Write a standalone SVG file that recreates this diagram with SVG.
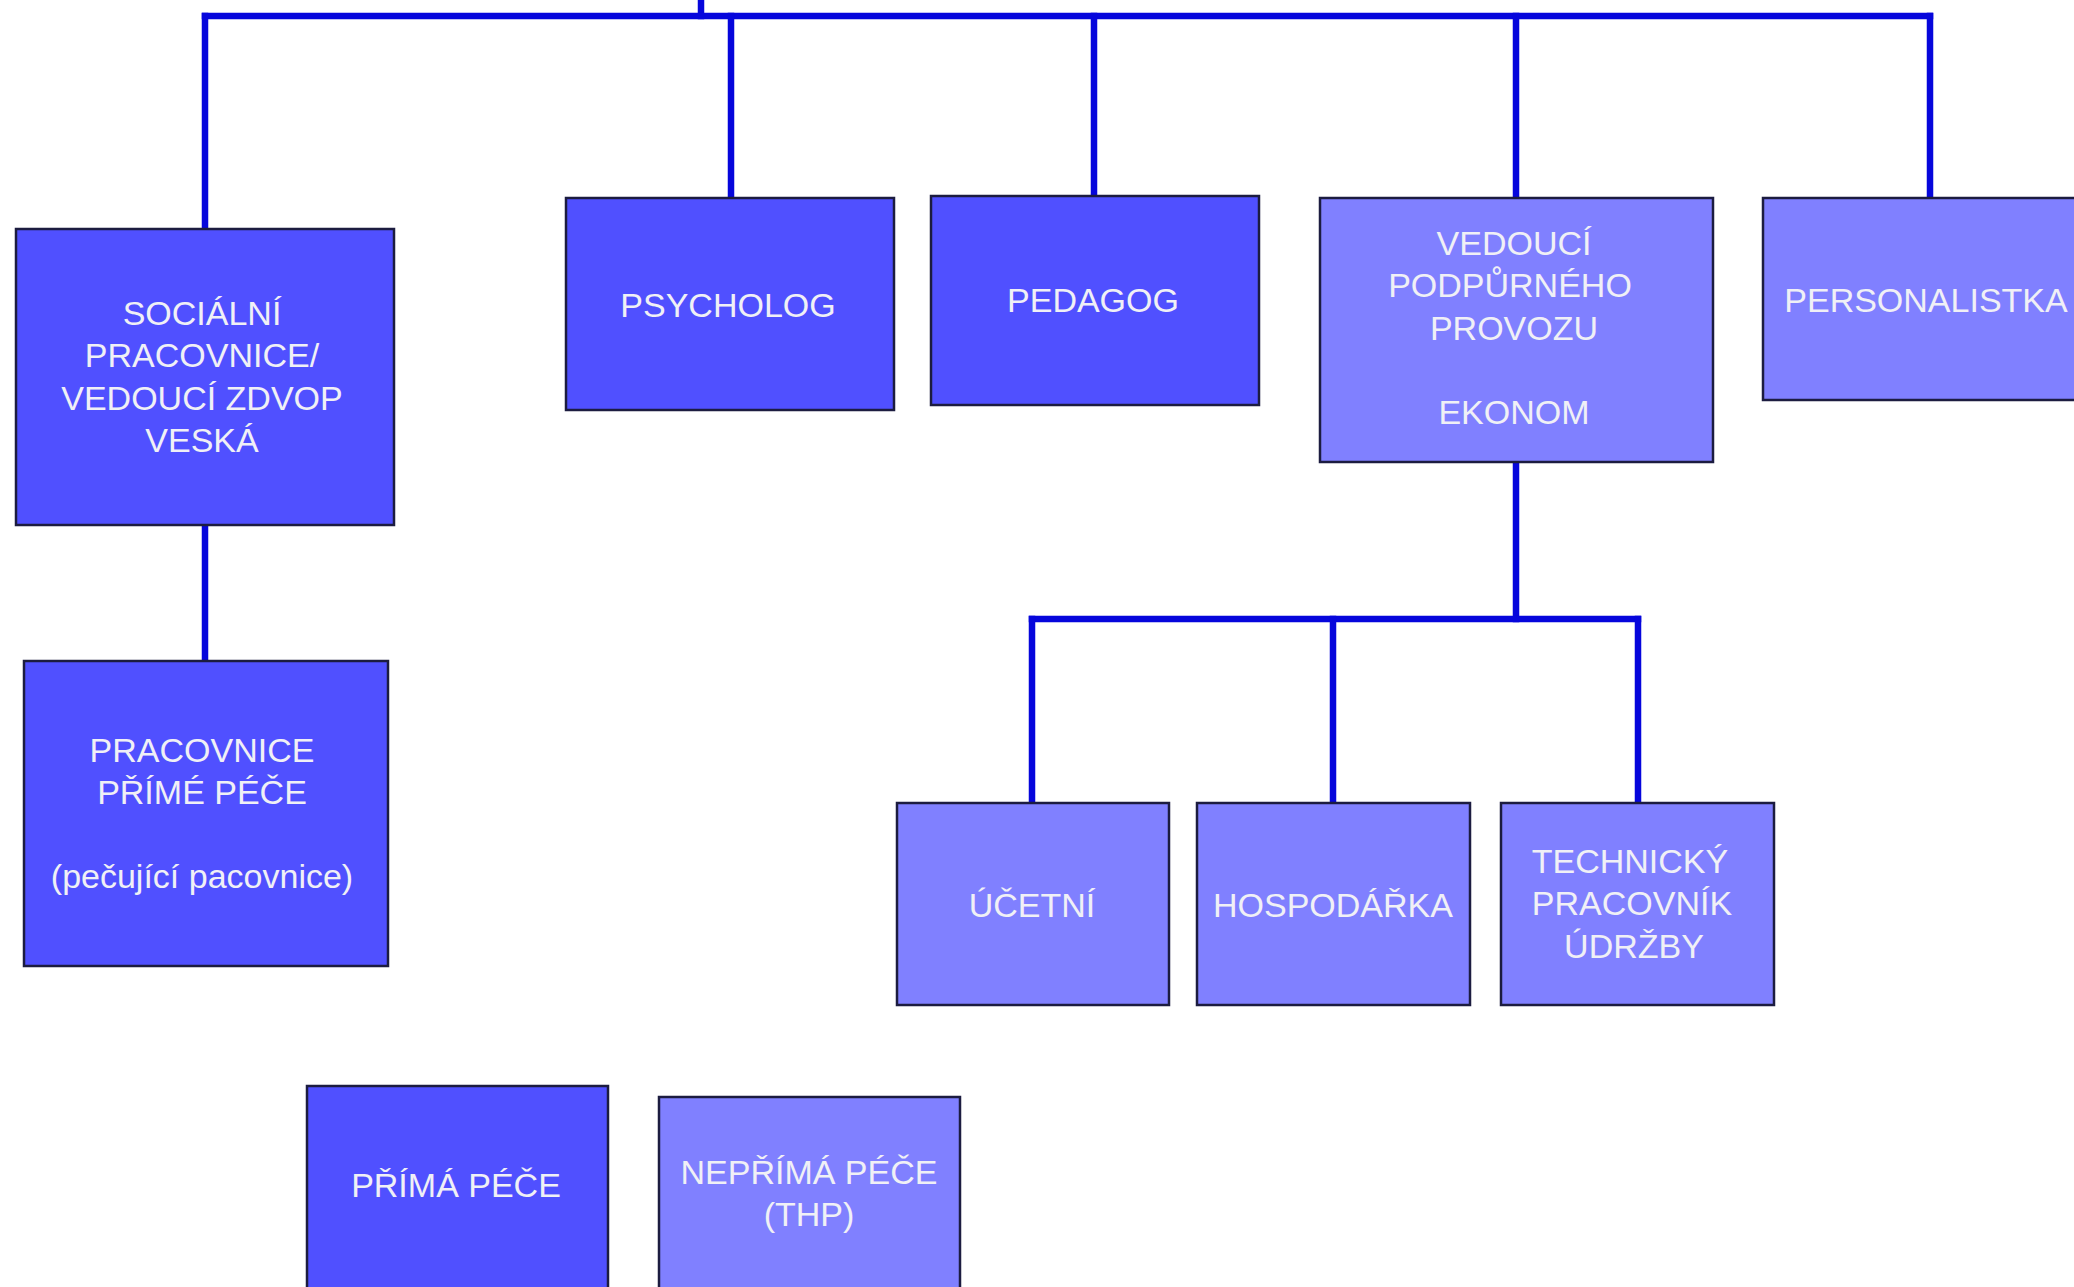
<svg xmlns="http://www.w3.org/2000/svg" width="2074" height="1287" viewBox="0 0 2074 1287">
<style>
.dark{fill:#5050ff;stroke:#1c1c40;stroke-width:2.5}
.light{fill:#8080ff;stroke:#1c1c40;stroke-width:2.5}
text{font-family:"Liberation Sans",Arial,sans-serif;font-size:34px;fill:#f0f0f6;text-anchor:middle}
.ln{stroke:#0606dc;stroke-width:6.5;fill:none;stroke-linecap:square}
</style>
<rect width="2074" height="1287" fill="#ffffff"/>
<g id="connectors">
<line class="ln" x1="701" y1="0" x2="701" y2="16"/>
<line class="ln" x1="205" y1="16" x2="1930" y2="16"/>
<line class="ln" x1="205" y1="16" x2="205" y2="229"/>
<line class="ln" x1="731" y1="16" x2="731" y2="198"/>
<line class="ln" x1="1094" y1="16" x2="1094" y2="196"/>
<line class="ln" x1="1516" y1="16" x2="1516" y2="198"/>
<line class="ln" x1="1930" y1="16" x2="1930" y2="198"/>
<line class="ln" x1="205" y1="525" x2="205" y2="661"/>
<line class="ln" x1="1516" y1="462" x2="1516" y2="619"/>
<line class="ln" x1="1032" y1="619" x2="1638" y2="619"/>
<line class="ln" x1="1032" y1="619" x2="1032" y2="803"/>
<line class="ln" x1="1333" y1="619" x2="1333" y2="803"/>
<line class="ln" x1="1638" y1="619" x2="1638" y2="803"/>
</g>
<g id="socialni">
<rect class="dark" x="16" y="229" width="378" height="296"/>
<text x="202" y="325">SOCIÁLNÍ</text>
<text x="202" y="367">PRACOVNICE/</text>
<text x="202" y="410">VEDOUCÍ ZDVOP</text>
<text x="202" y="452">VESKÁ</text>
</g>
<g id="psycholog">
<rect class="dark" x="566" y="198" width="328" height="212"/>
<text x="728" y="317">PSYCHOLOG</text>
</g>
<g id="pedagog">
<rect class="dark" x="931" y="196" width="328" height="209"/>
<text x="1093" y="312">PEDAGOG</text>
</g>
<g id="vedouci">
<rect class="light" x="1320" y="198" width="393" height="264"/>
<text x="1514" y="255">VEDOUCÍ</text>
<text x="1510" y="297">PODPŮRNÉHO</text>
<text x="1514" y="340">PROVOZU</text>
<text x="1514" y="424">EKONOM</text>
</g>
<g id="personalistka">
<rect class="light" x="1763" y="198" width="330" height="202"/>
<text x="1926" y="312">PERSONALISTKA</text>
</g>
<g id="pracovnice">
<rect class="dark" x="24" y="661" width="364" height="305"/>
<text x="202" y="762">PRACOVNICE</text>
<text x="202" y="804">PŘÍMÉ PÉČE</text>
<text x="202" y="888">(pečující pacovnice)</text>
</g>
<g id="ucetni">
<rect class="light" x="897" y="803" width="272" height="202"/>
<text x="1032" y="917">ÚČETNÍ</text>
</g>
<g id="hospodarka">
<rect class="light" x="1197" y="803" width="273" height="202"/>
<text x="1333" y="917">HOSPODÁŘKA</text>
</g>
<g id="technicky">
<rect class="light" x="1501" y="803" width="273" height="202"/>
<text x="1630" y="873">TECHNICKÝ</text>
<text x="1632" y="915">PRACOVNÍK</text>
<text x="1634" y="958">ÚDRŽBY</text>
</g>
<g id="prima">
<rect class="dark" x="307" y="1086" width="301" height="220"/>
<text x="456" y="1197">PŘÍMÁ PÉČE</text>
</g>
<g id="neprima">
<rect class="light" x="659" y="1097" width="301" height="210"/>
<text x="809" y="1184">NEPŘÍMÁ PÉČE</text>
<text x="809" y="1226">(THP)</text>
</g>
</svg>
